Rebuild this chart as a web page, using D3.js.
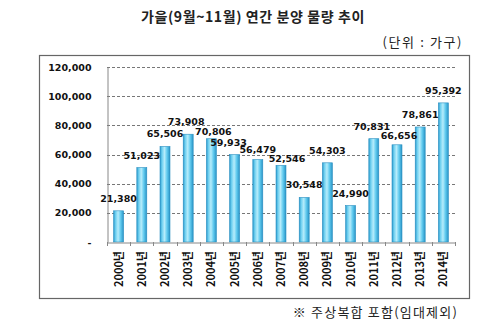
<!DOCTYPE html>
<html><head><meta charset="utf-8">
<script src="https://cdn.jsdelivr.net/npm/d3@7"></script>
<style>body{margin:0;background:#fff}svg{display:block}</style>
</head><body>
<script>
const years = ["2000","2001","2002","2003","2004","2005","2006","2007","2008","2009","2010","2011","2012","2013","2014"];
const values = [21380,51023,65506,73908,70806,59933,56479,52546,30548,54303,24990,70831,66656,78861,95392];
const yTicks = [0,20000,40000,60000,80000,100000,120000];
const title = "가을(9월~11월) 연간 분양 물량 추이";
const unitText = "(단위 : 가구)";
const note = "※ 주상복합 포함(임대제외)";

const W=500,H=323;
const svg=d3.select("body").append("svg").attr("width",W).attr("height",H);
const korFont="'Noto Sans CJK KR', sans-serif";
const numFont="'DejaVu Sans', sans-serif";

const defs=svg.append("defs");
const g=defs.append("linearGradient").attr("id","bg").attr("x1","0").attr("x2","1").attr("y1","0").attr("y2","0");
[[0,"#2a9acd"],[0.2,"#6fd0f0"],[0.45,"#b6ecfb"],[0.7,"#62cbef"],[1,"#2894c6"]].forEach(([o,c])=>g.append("stop").attr("offset",o).attr("stop-color",c));

svg.append("text").attr("x",253).attr("y",22).attr("text-anchor","middle")
  .attr("font-family",korFont).attr("font-size",14).attr("font-weight","bold").attr("letter-spacing",0.6).attr("fill","#222").text(title);
svg.append("text").attr("x",463).attr("y",47).attr("text-anchor","end")
  .attr("font-family",korFont).attr("font-size",13).attr("letter-spacing",1.6).attr("fill","#222").text(unitText);
svg.append("text").attr("x",458).attr("y",317).attr("text-anchor","end")
  .attr("font-family",korFont).attr("font-size",13).attr("letter-spacing",1.2).attr("fill","#222").text(note);

svg.append("rect").attr("x",39.5).attr("y",55.5).attr("width",430).attr("height",243)
  .attr("fill","none").attr("stroke","#666").attr("stroke-width",1.2);

const L=107,R=455,T=67,B=242;
const x=d3.scaleBand().domain(years).range([L,R]).paddingInner(0.57).paddingOuter(0.285);
const xb=d3.scaleBand().domain(years).range([L,R]);
const y=d3.scaleLinear().domain([0,120000]).range([B,T]);

// gridlines
svg.append("g").selectAll("line").data(yTicks.filter(d=>d>0)).join("line")
  .attr("x1",L).attr("x2",R).attr("y1",d=>Math.round(y(d))+0.5).attr("y2",d=>Math.round(y(d))+0.5)
  .attr("stroke","#777").attr("stroke-dasharray","3,2").attr("stroke-width",1);

// y axis
const ya=svg.append("g").attr("transform",`translate(${L+0.5},0)`)
  .call(d3.axisLeft(y).tickValues(yTicks).tickSize(0).tickPadding(16)
    .tickFormat(d=>d===0?"-":d3.format(",")(d)));
ya.select(".domain").attr("stroke","#888");
ya.selectAll("text").attr("font-family",numFont).attr("font-size",9.5).attr("font-weight","bold").attr("fill","#111");

// bars
svg.append("g").selectAll("rect").data(values).join("rect")
  .attr("x",(d,i)=>x(years[i])).attr("width",x.bandwidth())
  .attr("y",d=>y(d)).attr("height",d=>B-y(d))
  .attr("fill","url(#bg)").attr("stroke","#2a8fc0").attr("stroke-width",0.6);

// x axis
const xa=svg.append("g").attr("transform",`translate(0,${B+0.5})`)
  .call(d3.axisBottom(xb).tickSize(0).tickFormat(""));
xa.select(".domain").attr("stroke","#888");
svg.append("g").selectAll("line").data(d3.range(years.length+1)).join("line")
  .attr("x1",i=>Math.round(L+i*xb.step())+0.5).attr("x2",i=>Math.round(L+i*xb.step())+0.5)
  .attr("y1",B).attr("y2",B+4).attr("stroke","#888");
svg.append("g").selectAll("text").data(years).join("text")
  .attr("transform",d=>`translate(${xb(d)+xb.bandwidth()/2+4},${B+9}) rotate(-90)`)
  .attr("text-anchor","end").attr("font-family",korFont).attr("font-size",11).attr("font-weight","bold")
  .attr("fill","#111").text(d=>d+"년");

// value labels with simple collision avoidance
const lab=svg.append("g").selectAll("text").data(values).join("text")
  .attr("text-anchor","middle").attr("font-family",numFont).attr("font-size",9.5).attr("font-weight","bold")
  .attr("fill","#111").text(d=>d3.format(",")(d));
const info=values.map((v,i)=>({cx:xb(years[i])+xb.bandwidth()/2,top:y(v),by:y(v)-9}));
lab.each(function(d,i){info[i].w=this.getComputedTextLength();});
const need=9.5;
for(let pass=0;pass<6;pass++){
  for(let i=1;i<info.length;i++){
    const a=info[i-1],b=info[i];
    const ov=(a.cx+a.w/2)-(b.cx-b.w/2);
    const dv=Math.abs(a.by-b.by);
    if(ov>0 && dv<need){
      const up=a.by<=b.by?a:b, lo=a.by<=b.by?b:a;
      let deficit=need-dv;
      const room=Math.max(0,(lo.top-3)-lo.by);
      const down=Math.min(room,deficit);
      lo.by+=down; deficit-=down;
      up.by-=deficit;
      if(ov>8){a.cx-=2;b.cx+=2;}
    }
  }
}
lab.attr("x",(d,i)=>info[i].cx).attr("y",(d,i)=>info[i].by);
</script>
</body></html>
